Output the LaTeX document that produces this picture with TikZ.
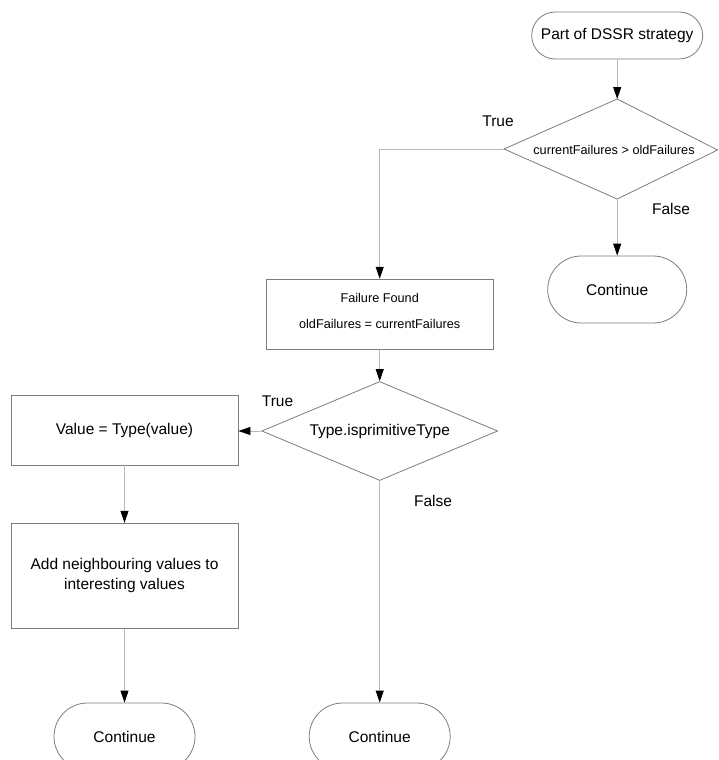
\documentclass[tikz,border=0pt]{standalone}
\usepackage{fontspec}
\setmainfont{Liberation Sans}
\usetikzlibrary{arrows.meta,shapes.geometric}
\definecolor{shapeline}{RGB}{125,125,125}
\definecolor{connline}{RGB}{185,185,185}
\begin{document}
\begin{tikzpicture}[x=1pt,y=-1pt,
  big/.style={font=\fontsize{15.5}{20}\selectfont},
  small/.style={font=\fontsize{12.7}{25.6}\selectfont},
  stadium/.style={draw=shapeline, line width=0.8pt, rectangle, rounded corners=#1, inner sep=0pt, big},
  proc/.style={draw=shapeline, line width=0.8pt, rectangle, inner sep=0pt, align=center},
  flow/.style={draw=connline, line width=0.8pt, -{Triangle[length=12pt,width=8pt,color=black]}},
  lbl/.style={big, inner sep=0pt}]
\path[use as bounding box, clip] (0,0) rectangle (718,760);

% start
\node[stadium=23.5pt, minimum width=171pt, minimum height=47pt] (start) at (617.2,35.5) {Part of DSSR strategy};

% decision 1
\coordinate (d1t) at (617.2,99);
\coordinate (d1r) at (717.6,150);
\coordinate (d1b) at (617.2,199);
\coordinate (d1l) at (504,149);
\draw[shapeline, line width=0.8pt] (d1t) -- (d1r) -- (d1b) -- (d1l) -- cycle;
\node[small, inner sep=0pt] (d1) at (614,149.5) {currentFailures > oldFailures};
\node[lbl] (t1) at (498,121.7) {True};
\node[lbl] (f1) at (671,209) {False};

\node[stadium=33.5pt, minimum width=139pt, minimum height=67pt] (c1) at (617.2,289.5) {Continue};

% failure found
\node[proc, minimum width=227pt, minimum height=70pt] (found) at (379.7,314.2) {};
\node[small, align=center, inner sep=0pt] (foundtext) at (379.7,310.8) {Failure Found\\oldFailures = currentFailures};

% decision 2
\node[draw=shapeline, line width=0.8pt, diamond, aspect=2.38, minimum width=236pt, minimum height=99pt, inner sep=0pt, big] (d2) at (379.7,431) {Type.isprimitiveType};
\node[lbl] (t2) at (277.5,401.7) {True};
\node[lbl] (f2) at (433,500.7) {False};

% left branch
\node[proc, big, minimum width=227pt, minimum height=70pt] (val) at (124.5,430) {Value = Type(value)};
\node[proc, big, minimum width=227pt, minimum height=105pt] (add) at (124.5,575.7) {Add neighbouring values to\\interesting values};
\node[stadium=33.5pt, minimum width=141pt, minimum height=67pt] (c2) at (124.5,736.5) {Continue};

% middle continue
\node[stadium=33.5pt, minimum width=141pt, minimum height=67pt] (c3) at (379.7,736.5) {Continue};

% connectors
\draw[flow] (start.south) -- (d1t);
\draw[flow] (d1b) -- (c1.north);
\draw[flow] (d1l) -| (found.north);
\draw[flow] (found.south) -- (d2.north);
\draw[flow] (d2.west) -- (val.east |- d2.west);
\draw[flow] (val.south) -- (add.north);
\draw[flow] (add.south) -- (c2.north);
\draw[flow] (d2.south) -- (c3.north);
\end{tikzpicture}
\end{document}
